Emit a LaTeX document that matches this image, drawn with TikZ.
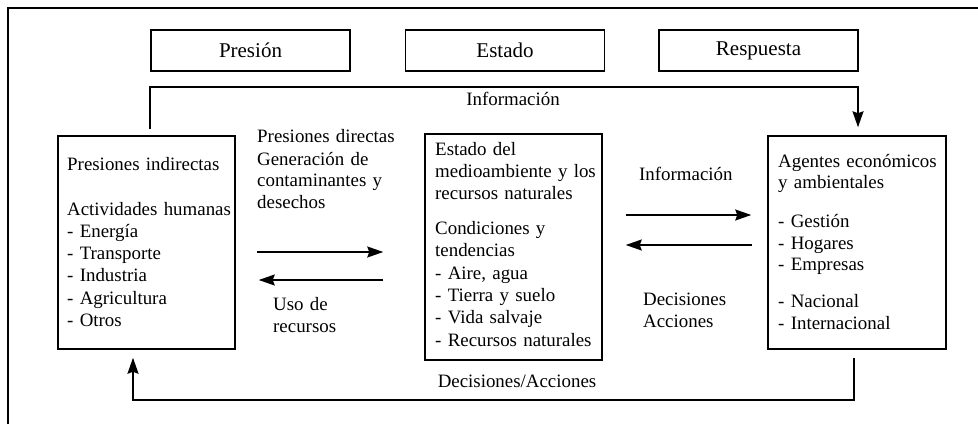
\documentclass[tikz,border=0pt]{standalone}
\usepackage{fontspec}
\setmainfont{Liberation Serif}
\usetikzlibrary{arrows.meta}
\begin{document}
\begin{tikzpicture}[x=1pt,y=-1pt,
  box/.style={draw,line width=1.5pt,inner sep=0pt},
  hbox/.style={box,minimum width=199pt,minimum height=41pt,font=\fontsize{21}{24}\selectfont},
  txt/.style={anchor=base west,inner sep=0pt,align=left,text width=#1,font=\fontsize{18.9}{22.3}\selectfont},
  txt/.default=180pt,
  lbl/.style={anchor=base,inner sep=0pt,font=\fontsize{18.9}{22.3}\selectfont},
  conn/.style={line width=1.6pt,-{Stealth[length=16pt,width=11pt,inset=2pt]}}]
\useasboundingbox (0,0) rectangle (978,424);
\draw[line width=1.5pt] (8,424) -- (8,8) -- (978,8);
% header boxes
\node[hbox] (P) at (250.5,50.5) {Presión};
\node[hbox] (E) at (505,50.5) {Estado};
\node[hbox] (Rs) at (758.5,50.5) {Respuesta};
% main boxes
\node[box,minimum width=177pt,minimum height=213pt] (L) at (146.5,242.5) {};
\node[box,minimum width=177pt,minimum height=226pt] (M) at (513.5,247) {};
\node[box,minimum width=178pt,minimum height=213pt] (R) at (857,242.5) {};
% texts in boxes
\node[txt] (Lt) at (67,170) {Presiones indirectas\\[22.7pt]Actividades humanas\\- Energía\\- Transporte\\- Industria\\- Agricultura\\- Otros};
\node[txt] (Mt) at (435,155) {Estado del\\medioambiente y los\\recursos naturales\\[12.7pt]Condiciones y\\tendencias\\- Aire, agua\\- Tierra y suelo\\- Vida salvaje\\- Recursos naturales};
\node[txt,font=\fontsize{18.9}{21.5}\selectfont] (Rt) at (778,167) {Agentes económicos\\y ambientales\\[17.5pt]- Gestión\\- Hogares\\- Empresas\\[15.5pt]- Nacional\\- Internacional};
% connector labels
\node[txt] (pd) at (257,142) {Presiones directas};
\node[txt,font=\fontsize{18.9}{21.8}\selectfont] (gc) at (257,165) {Generación de\\contaminantes y\\desechos};
\node[txt] (ur) at (273,310) {Uso de\\recursos};
\node[txt] (inf2) at (639,180) {Información};
\node[txt] (da) at (643,305) {Decisiones\\Acciones};
\node[lbl] (inf1) at (513,105) {Información};
\node[lbl] (dec) at (517,387) {Decisiones/Acciones};
% connectors
\draw[conn,shorten <=6pt,shorten >=8pt] ([xshift=3.5pt]L.north) -- ++(0,-48) -| ([xshift=1pt]R.north);
\draw[conn,shorten <=8pt,shorten >=8pt] ([xshift=-3pt]R.south) -- ++(0,50) -| ([xshift=-13.5pt]L.south);
\draw[conn,shorten <=21pt,shorten >=41pt] ([yshift=-9.5pt]L.east) -- ([yshift=-9.5pt]L.east -| M.west);
\draw[conn,shorten <=41pt,shorten >=23pt] ([yshift=-37.5pt]L.east -| M.west) -- ([yshift=-37.5pt]L.east);
\draw[conn,shorten <=23pt,shorten >=16pt] ([yshift=32pt]M.east) -- ([yshift=32pt]M.east -| R.west);
\draw[conn,shorten <=15pt,shorten >=23pt] ([yshift=2pt]M.east -| R.west) -- ([yshift=2pt]M.east);
\end{tikzpicture}
\end{document}
